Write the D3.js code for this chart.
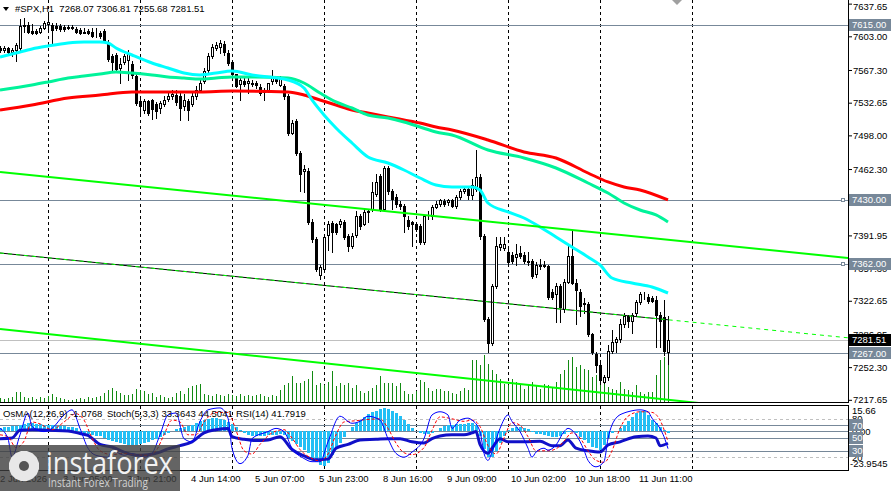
<!DOCTYPE html>
<html>
<head>
<meta charset="utf-8">
<script src="https://cdn.jsdelivr.net/npm/d3@7.9.0/dist/d3.min.js"></script>
<style>
  body { margin: 0; background: #fff; }
  svg { display: block; font-family: "Liberation Sans", Arial, sans-serif; }
</style>
</head>
<body>
<div id="chart"></div>
<script>
// ---- data: #SPX H1 candles (bar index 0..167) ----
const opens = [
  7591,7589,7591,7586,7588,7591,7614,7615,7609,7609,
  7608,7612,7616,7615,7614,7614,7613,7612,7613,7611,
  7610,7608,7609,7608,7606,7607,7609,7597,7582,7583,
  7569,7576,7578,7574,7561,7534,7525,7534,7535,7531,
  7527,7531,7537,7540,7541,7540,7529,7534,7531,7540,
  7546,7556,7567,7582,7591,7592,7595,7585,7576,7563,
  7552,7556,7553,7554,7553,7549,7544,7546,7556,7558,
  7551,7550,7540,7501,7513,7479,7460,7460,7406,7388,
  7350,7356,7392,7405,7404,7404,7406,7391,7381,7392,
  7413,7404,7417,7420,7436,7455,7420,7463,7439,7433,
  7425,7423,7408,7406,7404,7402,7385,7412,7412,7422,
  7425,7428,7427,7429,7423,7433,7439,7441,7435,7441,
  7454,7391,7303,7278,7338,7380,7379,7374,7371,7369,
  7373,7371,7365,7365,7351,7361,7360,7359,7332,7330,
  7338,7314,7343,7370,7342,7332,7319,7319,7287,7266,
  7255,7237,7242,7269,7279,7282,7298,7306,7301,7310,
  7321,7328,7327,7326,7324,7308,7305,7268.07
];
const highs = [
  7593,7593,7592,7591,7596,7621,7622,7618,7616,7611,
  7614,7619,7628,7617,7617,7616,7615,7615,7615,7613,
  7612,7612,7611,7612,7612,7609,7611,7599,7584,7585,
  7580,7584,7588,7577,7563,7537,7537,7536,7537,7533,
  7534,7540,7545,7546,7546,7543,7542,7537,7543,7550,
  7559,7569,7585,7595,7597,7599,7598,7588,7578,7563,
  7560,7559,7560,7557,7556,7552,7548,7554,7567,7561,
  7561,7552,7542,7514,7515,7481,7467,7463,7409,7390,
  7361,7392,7407,7407,7405,7409,7408,7393,7395,7418,
  7415,7420,7420,7449,7457,7457,7465,7465,7441,7436,
  7428,7425,7412,7407,7406,7404,7414,7418,7424,7428,
  7431,7431,7431,7431,7435,7441,7444,7444,7452,7482,
  7457,7393,7305,7340,7390,7390,7390,7381,7374,7383,
  7381,7374,7374,7367,7364,7367,7365,7361,7335,7342,
  7340,7346,7383,7397,7346,7335,7326,7321,7289,7268,
  7257,7244,7276,7292,7284,7303,7310,7308,7310,7324,
  7332,7332,7330,7328,7328,7311,7324,7306.81
];
const lows = [
  7586,7586,7584,7582,7577,7589,7608,7606,7605,7605,
  7607,7611,7609,7594,7610,7609,7609,7611,7611,7607,
  7605,7606,7605,7602,7602,7601,7598,7577,7566,7567,
  7553,7574,7557,7559,7530,7519,7522,7520,7515,7516,
  7522,7529,7534,7537,7530,7514,7525,7514,7529,7537,
  7544,7553,7565,7580,7589,7585,7583,7573,7559,7549,
  7535,7550,7543,7550,7548,7541,7535,7544,7552,7553,
  7550,7537,7498,7499,7477,7439,7438,7404,7385,7354,
  7346,7354,7377,7374,7393,7401,7388,7375,7379,7390,
  7399,7403,7406,7418,7434,7418,7418,7436,7420,7422,
  7420,7396,7399,7381,7397,7383,7383,7409,7409,7421,
  7423,7423,7424,7422,7421,7431,7437,7431,7431,7439,
  7388,7301,7268,7276,7336,7377,7377,7361,7363,7361,
  7368,7363,7361,7347,7348,7356,7358,7325,7325,7300,
  7300,7311,7341,7340,7298,7306,7310,7285,7266,7247,
  7236,7235,7239,7267,7268,7279,7295,7295,7289,7307,
  7319,7325,7320,7321,7274,7274,7265,7255.68
];
const closes = [
  7589,7591,7586,7589,7594,7614,7615,7608,7606,7606,
  7612,7617,7618,7610,7612,7611,7611,7613,7612,7608,
  7607,7607,7606,7603,7607,7603,7599,7579,7576,7568,
  7574,7582,7584,7562,7532,7529,7534,7522,7526,7524,
  7532,7536,7540,7542,7533,7527,7536,7525,7540,7546,
  7554,7566,7582,7592,7594,7596,7586,7575,7563,7550,
  7557,7552,7556,7552,7551,7543,7546,7553,7559,7556,
  7559,7540,7500,7511,7479,7457,7462,7406,7388,7356,
  7358,7390,7404,7396,7396,7407,7390,7381,7391,7413,
  7402,7417,7418,7438,7449,7420,7463,7439,7431,7425,
  7423,7413,7402,7404,7399,7385,7412,7413,7422,7425,
  7429,7425,7429,7423,7433,7439,7441,7435,7445,7454,
  7391,7303,7278,7338,7381,7383,7383,7364,7365,7372,
  7370,7365,7364,7349,7361,7359,7361,7327,7327,7338,
  7316,7343,7370,7342,7334,7317,7320,7287,7268,7255,
  7239,7242,7269,7279,7282,7298,7306,7301,7308,7321,
  7330,7328,7322,7322,7308,7301,7269,7281.51
];
const volumes = [
  400,300,400,500,1000,1000,500,400,500,300,500,400,600,800,500,400,300,200,200,300,400,300,500,400,
  500,600,900,1200,1400,1100,900,700,700,800,1300,1200,1100,800,900,500,700,500,400,500,900,1100,800,
  1400,1600,1700,1800,800,700,600,800,700,600,800,700,600,800,600,700,600,700,800,600,500,700,600,
  1200,1700,1900,2600,1900,1900,2100,2300,3100,1700,1900,1700,2000,3100,1600,1900,1700,1900,1400,1700,1100,900,1100,
  1400,1700,2600,1900,1900,1900,1600,1900,1100,800,800,1100,2200,2000,1400,1100,1300,1300,1100,1100,900,800,1100,1400,1200,
  4200,4200,3700,4700,3800,3200,2800,2300,1800,1700,2300,2000,1700,1300,1700,2000,1700,1300,1800,1700,
  1500,2000,2800,3200,4200,4500,3500,3700,3300,3200,2500,2700,1700,2000,1500,1300,1200,2000,1300,1200,
  1000,1700,1000,800,1000,1000,2700,4200,4500,4200
];

// moving averages (sampled bars -> price)
const cyanBars = [0,4,8,12,17,21,25,27,29,33,38,42,46,50,54,58,63,72,76,78,81,84,88,92,97,101,105,109,113,118,120,122,127,131,135,139,143,147,150,153,158,163,167];
const cyanVals = [7581.1,7585.3,7589.6,7592.7,7595.9,7597,7597,7595.9,7590.6,7583.2,7574.7,7569.4,7564.1,7562,7564.1,7566.2,7562,7556.7,7548.2,7535.5,7519.6,7505.8,7489.9,7475.1,7468.7,7461.3,7452.8,7445.4,7443.3,7443.3,7440.1,7426.3,7416.8,7410.4,7400.9,7390.3,7379.7,7369.1,7360.6,7346.8,7341.5,7337.3,7330.9];
const tealBars = [0,8,12,17,21,25,29,33,38,42,46,50,54,58,63,72,76,80,84,88,92,97,101,105,109,113,122,131,139,147,152,156,160,164,167];
const tealVals = [7546.1,7551.4,7554.6,7558.8,7560.9,7563.1,7565.2,7564.1,7562,7559.9,7558.8,7557.8,7558.8,7559.9,7559.9,7558.8,7553.5,7542.9,7533.4,7527,7519.6,7516.4,7512.2,7506.9,7501.6,7498.4,7482.5,7474,7463.4,7447.5,7436.9,7426.3,7418.9,7413.6,7406.2];
const redBars = [0,8,17,25,33,42,50,58,72,76,80,84,88,92,97,101,105,109,113,122,131,139,147,152,156,160,167];
const redVals = [7524.9,7530.2,7537.6,7540.8,7544,7544,7544,7545,7544,7540.8,7535.5,7530.2,7524.9,7521.7,7517.5,7514.3,7511.1,7506.9,7503.7,7493.1,7480.4,7474,7458.1,7448.6,7443.3,7440.1,7429.5];

// trend lines: [bar, price] endpoints
const upperLineBars = [0, 212], upperLinePrices = [7459.2, 7368.0];
const midLineBars = [0, 167, 212], midLinePrices = [7373.3, 7302.5, 7283.4];
const lowerLineBars = [0, 212], lowerLinePrices = [7292.8, 7197.5];

// horizontal levels
const levelPrices = [7615, 7430, 7362, 7267];
const levelMarked = [7430, 7362];
const bidPrice = 7281.51;
const priceTicks = [7637.65, 7603.00, 7567.30, 7532.65, 7498.00, 7462.30, 7430.00, 7391.95, 7357.30, 7322.65, 7286.95, 7252.30, 7217.65];

// oscillators
const osma = [
  1.9,2.5,2.5,3.1,3.1,
  3.7,4.3,5.0,5.0,4.3,4.3,3.7,3.7,3.7,3.1,3.1,3.1,2.5,2.5,1.9,
  -0.6,-1.2,-1.9,-2.5,-3.1,-3.1,
  -4.3,-5.6,-6.2,-6.8,-7.4,-8.0,-8.7,-8.7,-8.7,-8.0,-7.4,-6.8,-5.6,-5.0,-3.7,-2.5,
  -1.2,0.2,1.2,1.9,2.5,
  3.1,3.7,5.0,6.2,6.8,7.4,8.0,8.0,7.4,6.8,5.6,4.3,
  2.5,0.6,-1.2,-2.5,-3.1,-3.1,-3.1,-3.1,-2.5,-2.5,-2.5,-1.9,-2.5,
  -4.3,-6.2,-8.0,-9.9,-11.8,-13.6,-17.3,-19.2,-21.0,-21.7,-19.8,-14.9,-11.1,-7.4,
  -3.7,0.2,2.5,5.0,6.8,8.7,10.5,11.8,12.4,13.6,14.2,13.6,12.4,11.1,9.3,
  6.8,4.3,1.9,0.2,
  -1.2,-1.9,-1.9,-1.2,0.2,
  1.9,3.1,3.7,3.7,4.3,4.3,4.3,5.0,5.0,3.7,
  -3.1,-11.1,-16.1,-16.1,-12.4,-7.4,-3.1,0.6,1.9,2.5,2.5,1.9,
  1.2,-0.6,-1.9,-1.9,-2.5,-3.1,-3.7,-3.7,-3.1,-1.9,-0.6,0.2,
  -1.2,-3.7,-5.6,-7.4,-9.9,-10.5,-11.8,-8.7,-4.3,-1.2,
  0.2,1.9,3.7,6.2,8.7,11.1,12.4,12.4,9.9,6.8,5.0,2.5,0.6,-1.0768
];
const kBars = [0,2,3,5,7,8,11,13,16,18,20,22,24,27,28,31,33,36,38,40,42,44,46,48,50,52,55,57,58,60,62,63,67,69,71,73,76,78,80,82,85,88,90,92,95,97,99,101,103,106,108,110,112,113,115,117,118,120,121,122,123,125,127,128,130,132,133,134,136,137,139,141,142,144,146,147,149,151,152,154,156,157,160,162,163,165,166,167];
const kVals = [65,49,20,55,89,68,60,65,86,94,65,34,23,20,31,23,26,20,26,55,86,89,49,44,76,94,97,81,34,10,23,49,60,65,60,34,18,13,13,44,84,73,76,84,78,49,26,20,28,49,86,91,86,65,78,81,78,60,26,15,28,65,86,76,60,34,20,28,34,31,39,60,65,55,31,15,5,13,49,81,89,91,94,91,81,65,52,33.3643];
const dBars = [0,2,4,6,8,10,13,16,19,21,23,25,28,31,34,37,39,41,43,45,47,49,51,54,57,59,61,63,65,68,71,73,75,78,80,82,84,86,89,92,95,97,99,101,103,106,108,110,113,116,118,120,122,124,126,128,130,132,134,137,139,141,143,145,147,149,151,153,155,157,160,163,165,167];
const dVals = [55,52,35,45,75,72,63,75,88,78,50,30,24,26,24,23,30,55,78,75,55,55,75,90,90,62,30,25,40,58,63,50,32,18,14,25,55,75,77,79,80,65,42,27,24,35,62,83,80,76,78,68,38,25,50,74,70,52,30,30,33,45,58,50,30,15,12,30,65,84,91,90,78,44.5041];
const rsiBars = [0,3,5,8,12,17,20,22,25,28,31,34,37,40,42,45,48,51,54,57,58,61,64,67,70,73,76,79,82,84,87,90,94,97,100,103,106,108,110,113,116,118,119,120,122,123,125,127,131,135,138,140,142,144,147,150,152,155,159,162,164,165,167];
const rsiVals = [49,50,62,63,62,61,57,54,40,36,28,23,24,28,33,38,44,58,63,65,52,48,46,47,52,32,22,16,17,34,40,47,48,49,49,44,42,49,53,55,55,58,60,40,26,34,49,44,44,45,38,38,47,34,30,28,39,44,52,53,50,38,41.7919];
const oscLevels = [70, 50, 30];
const oscDashed = [80, 20];

// time axis
const timeBars = [-0.75, 15, 31, 47, 63, 79, 95, 111, 127, 143, 159];
const timeLabels = ["2 Jun 2026", "3 Jun 05:00", "3 Jun 21:00", "4 Jun 14:00", "5 Jun 07:00", "5 Jun 23:00",
  "8 Jun 16:00", "9 Jun 09:00", "10 Jun 02:00", "10 Jun 18:00", "11 Jun 11:00"];
const gridBars = [12, 35, 58, 81, 104, 127, 150, 173];

// ---- layout ----
const W = 891, H = 491, plotRight = 848;
const mainBottom = 402, oscTop = 406, oscBottom = 470;

const svg = d3.select("#chart").append("svg")
  .attr("width", W).attr("height", H);

const x = d3.scaleLinear().domain([0, 212]).range([0, plotRight]);
const y = d3.scaleLinear().domain([7216.4, 7641.5]).range([401, 0]);
const yVol = d3.scaleLinear().domain([0, 10000]).range([402, 302]);
const yOsma = d3.scaleLinear().domain([-23.9545, 15.66]).range([oscBottom, oscTop]);
const yOsc = d3.scaleLinear().domain([0, 100]).range([oscBottom, oscTop]);

const defs = svg.append("defs");
defs.append("clipPath").attr("id", "clipMain")
  .append("rect").attr("x", 0).attr("y", 0).attr("width", plotRight).attr("height", mainBottom);
defs.append("clipPath").attr("id", "clipOsc")
  .append("rect").attr("x", 0).attr("y", oscTop).attr("width", plotRight).attr("height", oscBottom - oscTop);

const main = svg.append("g").attr("clip-path", "url(#clipMain)");
const osc = svg.append("g").attr("clip-path", "url(#clipOsc)");

// vertical grid
[[main, 0, mainBottom], [osc, oscTop, oscBottom]].forEach(([g, y0, y1]) => {
  g.selectAll(null).data(gridBars).join("line")
    .attr("x1", d => x(d) + 0.5).attr("x2", d => x(d) + 0.5)
    .attr("y1", y0).attr("y2", y1)
    .attr("stroke", "#000").attr("stroke-dasharray", "3,3");
});

// volumes
main.selectAll(".vol").data(volumes).join("line")
  .attr("x1", (d, i) => x(i) + 0.5).attr("x2", (d, i) => x(i) + 0.5)
  .attr("y1", yVol(0)).attr("y2", d => yVol(d))
  .attr("stroke", "#128a12");

// level lines
main.selectAll(".lvl").data(levelPrices).join("line")
  .attr("x1", 0).attr("x2", plotRight)
  .attr("y1", d => Math.round(y(d)) + 0.5).attr("y2", d => Math.round(y(d)) + 0.5)
  .attr("stroke", "#778899");
main.append("line")
  .attr("x1", 0).attr("x2", plotRight)
  .attr("y1", Math.round(y(bidPrice)) + 0.5).attr("y2", Math.round(y(bidPrice)) + 0.5)
  .attr("stroke", "#c0c0c0");
main.selectAll(".mark").data(levelMarked).join("rect")
  .attr("x", plotRight - 6.5).attr("y", d => Math.round(y(d)) - 1.5)
  .attr("width", 3).attr("height", 3)
  .attr("fill", "#fff").attr("stroke", "#778899");

// candles
const bars = d3.range(opens.length).map(i => ({i, o: opens[i], h: highs[i], l: lows[i], c: closes[i]}));
const cg = main.append("g").attr("shape-rendering", "crispEdges");
cg.selectAll(".wick").data(bars).join("line")
  .attr("x1", d => x(d.i) + 0.5).attr("x2", d => x(d.i) + 0.5)
  .attr("y1", d => Math.round(y(d.h))).attr("y2", d => Math.round(y(d.l)) + 1)
  .attr("stroke", "#000");
cg.selectAll(".body").data(bars).join("rect")
  .each(function(d) {
    const top = Math.round(y(Math.max(d.o, d.c)));
    const bot = Math.round(y(Math.min(d.o, d.c)));
    const el = d3.select(this);
    if (d.c < d.o) {
      el.attr("x", x(d.i) - 1).attr("width", 3)
        .attr("y", top).attr("height", Math.max(1, bot - top + 1))
        .attr("fill", "#000");
    } else {
      el.attr("x", x(d.i) - 0.5).attr("width", 2)
        .attr("y", top + 0.5).attr("height", Math.max(0, bot - top))
        .attr("fill", "#fff").attr("stroke", "#000");
    }
  });

// moving averages
const maLine = d3.line().x(d => x(d[0])).y(d => y(d[1])).curve(d3.curveMonotoneX);
[[redBars, redVals, "#ff0000"], [tealBars, tealVals, "#00f39a"], [cyanBars, cyanVals, "#00ffff"]]
  .forEach(([b, v, col]) => {
    main.append("path").datum(d3.zip(b, v))
      .attr("d", maLine).attr("fill", "none")
      .attr("stroke", col).attr("stroke-width", 3);
  });

// trend lines
const tLine = d3.line().x(d => x(d[0])).y(d => y(d[1]));
main.append("path").datum(d3.zip(upperLineBars, upperLinePrices))
  .attr("d", tLine).attr("stroke", "#00ff00").attr("stroke-width", 2).attr("fill", "none");
main.append("path").datum(d3.zip(lowerLineBars, lowerLinePrices))
  .attr("d", tLine).attr("stroke", "#00ff00").attr("stroke-width", 2).attr("fill", "none");
main.append("path").datum(d3.zip(midLineBars, midLinePrices).slice(0, 2))
  .attr("d", tLine).attr("stroke", "#000").attr("stroke-width", 1).attr("fill", "none");
main.append("path").datum(d3.zip(midLineBars, midLinePrices))
  .attr("d", tLine).attr("stroke", "#00ff00").attr("stroke-width", 1)
  .attr("stroke-dasharray", "4,4").attr("fill", "none");

// ---- oscillator panel ----
osc.selectAll(".dl").data(oscDashed).join("line")
  .attr("x1", 0).attr("x2", plotRight)
  .attr("y1", d => Math.round(yOsc(d)) + 0.5).attr("y2", d => Math.round(yOsc(d)) + 0.5)
  .attr("stroke", "#c0c0c0").attr("stroke-dasharray", "3,3");
osc.selectAll(".sl").data(oscLevels).join("line")
  .attr("x1", 0).attr("x2", plotRight)
  .attr("y1", d => Math.round(yOsc(d)) + 0.5).attr("y2", d => Math.round(yOsc(d)) + 0.5)
  .attr("stroke", "#778899");
osc.append("line")
  .attr("x1", 0).attr("x2", plotRight)
  .attr("y1", Math.round(yOsma(0)) + 0.5).attr("y2", Math.round(yOsma(0)) + 0.5)
  .attr("stroke", "#778899");

osc.append("g").attr("shape-rendering", "crispEdges")
  .selectAll("rect").data(osma).join("rect")
  .attr("x", (d, i) => x(i) - 1).attr("width", 3)
  .attr("y", d => Math.min(yOsma(d), yOsma(0)))
  .attr("height", d => Math.abs(yOsma(d) - yOsma(0)))
  .attr("fill", "#22bff5");

const oscLine = d3.line().x(d => x(d[0])).y(d => yOsc(d[1])).curve(d3.curveMonotoneX);
osc.append("path").datum(d3.zip(rsiBars, rsiVals))
  .attr("d", oscLine).attr("fill", "none").attr("stroke", "#1010c8").attr("stroke-width", 3);
osc.append("path").datum(d3.zip(dBars, dVals))
  .attr("d", oscLine).attr("fill", "none").attr("stroke", "#ff0000").attr("stroke-dasharray", "3,2");
osc.append("path").datum(d3.zip(kBars, kVals))
  .attr("d", oscLine).attr("fill", "none").attr("stroke", "#0000ff");

// ---- frames ----
const frame = svg.append("g").attr("stroke", "#000").attr("shape-rendering", "crispEdges");
frame.append("line").attr("x1", plotRight + 0.5).attr("x2", plotRight + 0.5).attr("y1", 0).attr("y2", mainBottom + 1);
frame.append("line").attr("x1", plotRight + 0.5).attr("x2", plotRight + 0.5).attr("y1", oscTop).attr("y2", oscBottom + 1);
frame.append("line").attr("x1", 0).attr("x2", plotRight + 1).attr("y1", mainBottom + 0.5).attr("y2", mainBottom + 0.5);
frame.append("line").attr("x1", 0).attr("x2", plotRight + 1).attr("y1", oscTop - 0.5).attr("y2", oscTop - 0.5);
frame.append("line").attr("x1", 0).attr("x2", plotRight + 1).attr("y1", oscBottom + 0.5).attr("y2", oscBottom + 0.5);

// ---- price axis ----
const ax = svg.append("g").attr("transform", `translate(${plotRight},0)`)
  .call(d3.axisRight(y).tickValues(priceTicks).tickSize(4).tickPadding(1).tickFormat(d3.format(".2f")));
ax.select(".domain").remove();
ax.attr("font-family", null).attr("font-size", null);
ax.selectAll("text").attr("font-size", "9.5px").attr("fill", "#000");
// keep the top label inside the window
ax.selectAll(".tick").filter(d => d === priceTicks[0]).select("text").attr("y", 2.5);

function badge(val, yy, bg, w) {
  svg.append("rect").attr("x", plotRight + 1).attr("y", Math.round(yy) - 6)
    .attr("width", w).attr("height", 12).attr("fill", bg);
  svg.append("text").attr("x", plotRight + 4).attr("y", yy).attr("dy", "0.35em")
    .attr("font-size", "9.5px").attr("fill", "#fff").text(val);
}
levelPrices.forEach(p => badge(p.toFixed(2), y(p), "#778899", 42));
badge(bidPrice.toFixed(2), y(bidPrice), "#000", 42);

// oscillator axis
const oscText = [["15.66", yOsma(15.66) + 5], ["80", yOsc(80)], ["0.00", yOsma(0)], ["20", yOsc(20)], ["-23.9545", yOsma(-23.9545) - 6]];
svg.selectAll(".ot").data(oscText).join("text")
  .attr("x", d => d[0].startsWith("-") ? plotRight + 2 : plotRight + 4)
  .attr("y", d => d[1]).attr("dy", "0.35em")
  .attr("font-size", "9.5px").text(d => d[0]);
oscLevels.forEach(v => badge(String(v), yOsc(v), "#778899", 14));

// time axis
svg.selectAll(".tl").data(timeBars).join("text")
  .attr("x", d => x(d) + 3).attr("y", 482)
  .attr("font-size", "9.5px").text((d, i) => timeLabels[i]);

// ---- headers ----
svg.append("path").attr("d", "M3,7 L9,7 L6,11 Z").attr("fill", "#000");
svg.append("text").attr("x", 15).attr("y", 11.5).attr("font-size", "9.5px")
  .style("white-space", "pre").text("#SPX,H1  7268.07 7306.81 7255.68 7281.51");
svg.append("path").attr("d", "M672,0 L682,0 L677,5 Z").attr("fill", "#a0a0a0");

svg.append("text").attr("x", 3).attr("y", 417).attr("font-size", "9.5px").text("OsMA(12,26,9) -1.0768");
svg.append("text").attr("x", 107).attr("y", 417).attr("font-size", "9.5px").text("Stoch(5,3,3) 33.3643 44.5041");
svg.append("text").attr("x", 236).attr("y", 417).attr("font-size", "9.5px").text("RSI(14) 41.7919");

// ---- watermark logo ----
const logo = svg.append("g");
logo.append("rect").attr("x", 0).attr("y", 445).attr("width", 180).attr("height", 46)
  .attr("fill", "#3d3d3d").attr("opacity", 0.8);
const gear = logo.append("g").attr("transform", "translate(24,466)").attr("fill", "#e8e8e8");
d3.range(8).forEach(k => {
  gear.append("rect").attr("x", -3).attr("y", -15).attr("width", 6).attr("height", 30)
    .attr("transform", `rotate(${k * 22.5})`);
});
gear.append("circle").attr("r", 11);
gear.append("circle").attr("r", 5).attr("fill", "#555");
logo.append("text").attr("x", 46).attr("y", 474).attr("font-family", "'Open Sans', sans-serif")
  .attr("font-size", "31px").attr("fill", "#f2f2f2")
  .attr("textLength", 127).attr("lengthAdjust", "spacingAndGlyphs").text("instaforex");
logo.append("text").attr("x", 48).attr("y", 487).attr("font-family", "'Open Sans', sans-serif")
  .attr("font-size", "12px").attr("fill", "#d0d0d0")
  .attr("textLength", 100).attr("lengthAdjust", "spacingAndGlyphs").text("Instant Forex Trading");
</script>
</body>
</html>
